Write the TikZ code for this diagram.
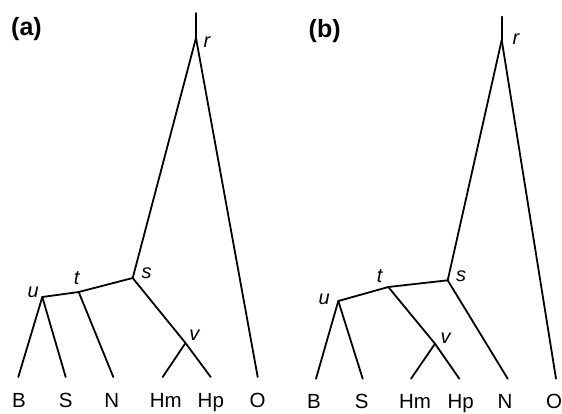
\documentclass[tikz,border=0pt]{standalone}
\usepackage{fontspec}
\setmainfont{Liberation Sans}
\begin{document}
\begin{tikzpicture}[x=1pt,y=-1pt,
  branch/.style={line width=1.8pt,line cap=round,line join=round},
  leaflab/.style={font=\fontsize{20.5}{20.5}\selectfont,inner sep=0pt,anchor=base},
  intlab/.style={font=\fontsize{20}{20}\selectfont\itshape,inner sep=0pt},
  panellab/.style={font=\fontsize{25}{25}\selectfont\bfseries,inner sep=0pt}]
\useasboundingbox (0,0) rectangle (562,413);
% ---------- panel (a) ----------
\node[panellab] (pa) at (26.5,29) {(a)};
\coordinate (a-top) at (196,13);
\coordinate (a-r) at (196,38);
\coordinate (a-s) at (132.7,278);
\coordinate (a-t) at (78.7,292);
\coordinate (a-u) at (42.3,297);
\coordinate (a-v) at (185.5,343);
\coordinate (a-B) at (18.3,377);
\coordinate (a-S) at (65.7,377);
\coordinate (a-N) at (113.3,377);
\coordinate (a-Hm) at (162.7,377);
\coordinate (a-Hp) at (210.7,377);
\coordinate (a-O) at (257.7,377);
\draw[branch] (a-top) -- (a-r);
\draw[branch] (a-r) -- (a-s);
\draw[branch] (a-r) -- (a-O);
\draw[branch] (a-s) -- (a-t) -- (a-u);
\draw[branch] (a-u) -- (a-B);
\draw[branch] (a-u) -- (a-S);
\draw[branch] (a-t) -- (a-N);
\draw[branch] (a-s) -- (a-v) -- (a-Hp);
\draw[branch] (a-v) -- (a-Hm);
\node[intlab] (la-r) at (207,42.5) {r};
\node[intlab] (la-s) at (146.5,273.5) {s};
\node[intlab] (la-t) at (76.7,278) {t};
\node[intlab] (la-u) at (33.3,292) {u};
\node[intlab] (la-v) at (194.3,335) {v};
\node[leaflab] (na-B) at (19,407.5) {B};
\node[leaflab] (na-S) at (65.7,407.5) {S};
\node[leaflab] (na-N) at (111.7,407.5) {N};
\node[leaflab] (na-Hm) at (165.8,407.5) {Hm};
\node[leaflab] (na-Hp) at (210.8,407.5) {Hp};
\node[leaflab] (na-O) at (257.5,407.5) {O};
% ---------- panel (b) ----------
\node[panellab] (pb) at (324.7,31.5) {(b)};
\coordinate (b-top) at (501.7,16.7);
\coordinate (b-r) at (501.7,40);
\coordinate (b-s) at (447.7,280.3);
\coordinate (b-t) at (388.3,287);
\coordinate (b-u) at (338.3,301);
\coordinate (b-v) at (435,343.7);
\coordinate (b-B) at (316,378.7);
\coordinate (b-S) at (362.7,378.7);
\coordinate (b-Hm) at (411,378.7);
\coordinate (b-Hp) at (459.3,378.7);
\coordinate (b-N) at (507.7,378.7);
\coordinate (b-O) at (556,378.7);
\draw[branch] (b-top) -- (b-r);
\draw[branch] (b-r) -- (b-s);
\draw[branch] (b-r) -- (b-O);
\draw[branch] (b-s) -- (b-t) -- (b-u);
\draw[branch] (b-u) -- (b-B);
\draw[branch] (b-u) -- (b-S);
\draw[branch] (b-s) -- (b-N);
\draw[branch] (b-t) -- (b-v) -- (b-Hp);
\draw[branch] (b-v) -- (b-Hm);
\node[intlab] (lb-r) at (516,39) {r};
\node[intlab] (lb-s) at (461,276) {s};
\node[intlab] (lb-t) at (379.7,276) {t};
\node[intlab] (lb-u) at (324.3,299.7) {u};
\node[intlab] (lb-v) at (445.7,338.7) {v};
\node[leaflab] (nb-B) at (314,408.5) {B};
\node[leaflab] (nb-S) at (361.7,408.5) {S};
\node[leaflab] (nb-Hm) at (415,408.5) {Hm};
\node[leaflab] (nb-Hp) at (460.7,408.5) {Hp};
\node[leaflab] (nb-N) at (505,408.5) {N};
\node[leaflab] (nb-O) at (554,408.5) {O};
\end{tikzpicture}
\end{document}
